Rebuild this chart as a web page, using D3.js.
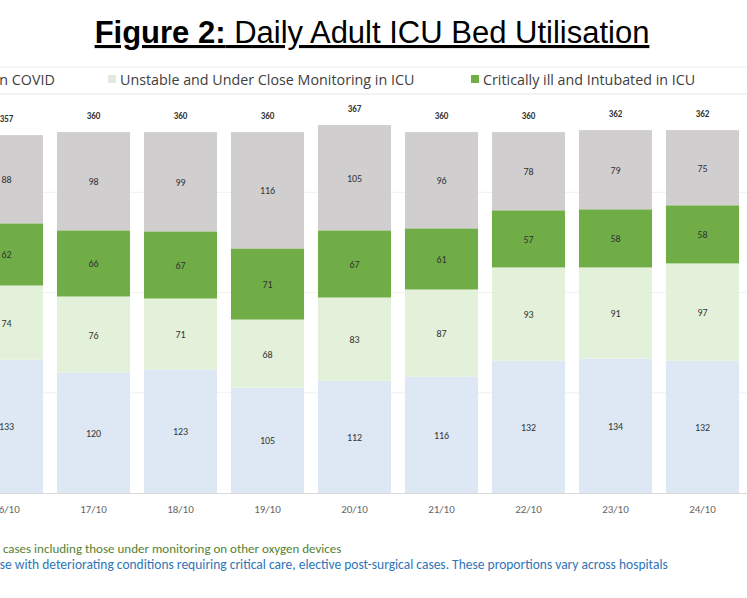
<!DOCTYPE html>
<html><head><meta charset="utf-8">
<script src="https://cdn.jsdelivr.net/npm/d3@7"></script>
<style>body{margin:0;background:#fff}svg{display:block}</style>
</head><body>
<svg width="747" height="598"></svg>
<script>
// Data
const dates = ["16/10","17/10","18/10","19/10","20/10","21/10","22/10","23/10","24/10"];
const nonCovid = [133,120,123,105,112,116,132,134,132];
const unstable = [74,76,71,68,83,87,93,91,97];
const critical = [62,66,67,71,67,61,57,58,58];
const topGrey = [88,98,99,116,105,96,78,79,75];
const seriesNames = ["Non COVID","Unstable and Under Close Monitoring in ICU","Critically ill and Intubated in ICU","Other"];
const colors = ["#dde8f4","#e3f0da","#70ad47","#d0cece"];

const svg = d3.select("svg");
const font = "'Liberation Sans', Arial, sans-serif";
const cal = "Carlito, 'Open Sans', sans-serif";

// Title
const title = svg.append("text").attr("x", 372).attr("y", 43).attr("text-anchor", "middle")
  .attr("font-family", font).attr("font-size", 31).attr("text-decoration", "underline");
title.append("tspan").attr("font-weight", "bold").text("Figure 2:");
title.append("tspan").text(" Daily Adult ICU Bed Utilisation");

// Legend
const legend = [
  {x: -32, i: 0}, {x: 108, i: 1}, {x: 471, i: 2}
];
legend.forEach(l => {
  svg.append("rect").attr("x", l.x).attr("y", 75).attr("width", 8).attr("height", 8).attr("fill", l.i === 1 ? "#e4e8df" : colors[l.i]);
  svg.append("text").attr("x", l.x + 12).attr("y", 85).attr("font-family", "'Open Sans', sans-serif")
    .attr("font-size", 14.3).attr("fill", "#404040").text(seriesNames[l.i]);
});
svg.append("line").attr("x1", 0).attr("x2", 747).attr("y1", 67).attr("y2", 67).attr("stroke", "#eee");
svg.append("line").attr("x1", 0).attr("x2", 747).attr("y1", 94).attr("y2", 94).attr("stroke", "#e6e6e6");

// Scales
const x = d3.scaleBand().domain(dates).range([-37, 746]).paddingInner(0.16).paddingOuter(0.08);
const y = d3.scaleLinear().domain([0, 400]).range([493, 92]);

const table = dates.map((d, i) => ({date: d, s0: nonCovid[i], s1: unstable[i], s2: critical[i], s3: topGrey[i]}));
const stack = d3.stack().keys(["s0","s1","s2","s3"])(table);

// Gridlines
[100,200,300].forEach(v => svg.append("line").attr("x1", 0).attr("x2", 747)
  .attr("y1", y(v)).attr("y2", y(v)).attr("stroke", "#f0f0f0"));

const g = svg.append("g");
stack.forEach((layer, k) => {
  g.selectAll(null).data(layer).enter().append("rect")
    .attr("x", d => x(d.data.date)).attr("width", x.bandwidth())
    .attr("y", d => y(d[1])).attr("height", d => y(d[0]) - y(d[1]))
    .attr("fill", colors[k]);
  g.selectAll(null).data(layer).enter().append("text")
    .attr("x", d => x(d.data.date) + x.bandwidth() / 2)
    .attr("y", d => (y(d[0]) + y(d[1])) / 2 + 4)
    .attr("text-anchor", "middle").attr("font-family", cal).attr("font-size", 10)
    .attr("fill", "#333").text(d => d[1] - d[0]);
});

// Totals
g.selectAll(null).data(table).enter().append("text")
  .attr("x", d => x(d.date) + x.bandwidth() / 2)
  .attr("y", d => y(d.s0 + d.s1 + d.s2 + d.s3) - 13)
  .attr("text-anchor", "middle").attr("font-family", cal).attr("font-size", 9)
  .attr("font-weight", "bold").attr("fill", "#333").text(d => d.s0 + d.s1 + d.s2 + d.s3);

// X axis
svg.append("line").attr("x1", 0).attr("x2", 747).attr("y1", 493.5).attr("y2", 493.5).attr("stroke", "#d9d9d9");
const xAxis = svg.append("g").attr("transform", "translate(0,493)")
  .call(d3.axisBottom(x).tickSize(0).tickPadding(12));
xAxis.select(".domain").remove();
xAxis.selectAll("text").attr("font-family", cal).attr("font-size", 11).attr("fill", "#666");

// Footnotes
svg.append("text").attr("x", -4).attr("y", 553).attr("font-family", cal).attr("font-size", 13)
  .attr("fill", "#548235").text("- cases including those under monitoring on other oxygen devices");
svg.append("text").attr("x", -21).attr("y", 569).attr("font-family", cal).attr("font-size", 13.5)
  .attr("fill", "#2e75b6").text("Those with deteriorating conditions requiring critical care, elective post-surgical cases. These proportions vary across hospitals");
</script>
</body></html>
